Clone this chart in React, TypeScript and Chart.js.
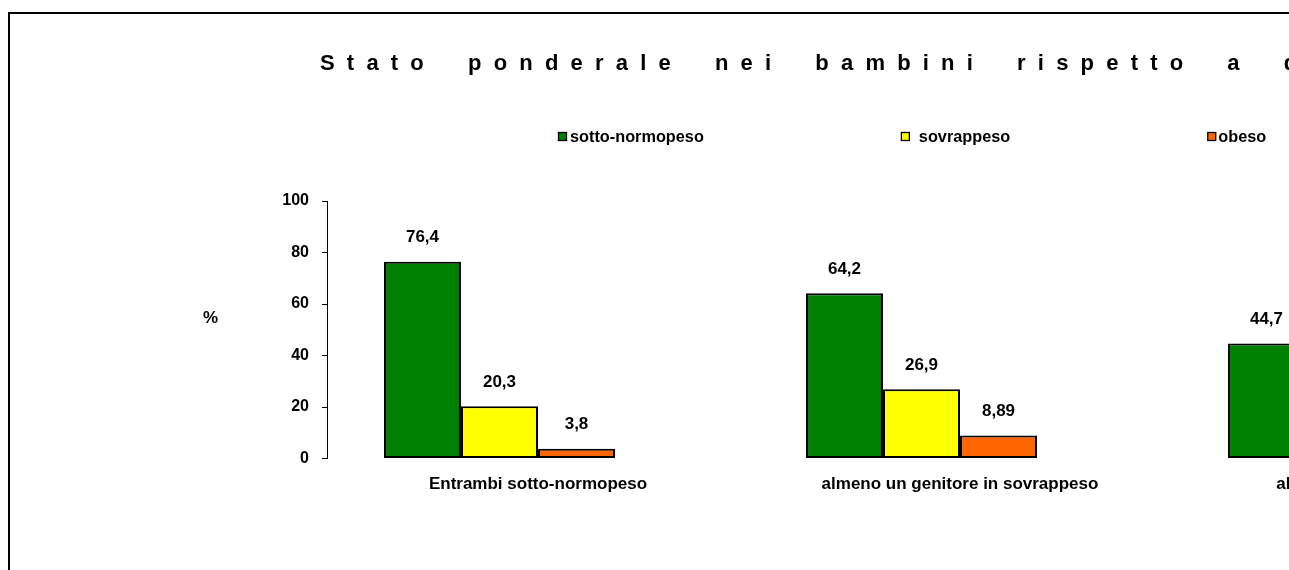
import React, { useEffect, useRef } from "react";
import { Chart, registerables } from "chart.js";

Chart.register(...registerables);

// ---- data ----
const TITLE = "Stato ponderale nei bambini rispetto a quello dei genitori";
const Y_AXIS_LABEL = "%";
const CATEGORIES = [
  "Entrambi sotto-normopeso",
  "almeno un genitore in sovrappeso",
  "almeno un genitore obeso",
];
const SERIES_NAMES = ["sotto-normopeso", "sovrappeso", "obeso"];
const SOTTO_NORMOPESO = [76.4, 64.2, 44.7];
const SOVRAPPESO = [20.3, 26.9, null];
const OBESO = [3.8, 8.89, null];
const SERIES_COLORS = ["#008000", "#FFFF00", "#FF6600"];
const Y_TICKS = [0, 20, 40, 60, 80, 100];

const FONT = "'Liberation Sans', Arial, Helvetica, sans-serif";
const CANVAS_W = 1840;
const CANVAS_H = 620;

const fmt = (v: number) => String(v).replace(".", ",");

const decorPlugin = {
  id: "decor",
  beforeDraw(chart: any) {
    const ctx = chart.ctx;
    ctx.save();
    ctx.fillStyle = "#ffffff";
    ctx.fillRect(0, 0, chart.width, chart.height);
    ctx.strokeStyle = "#000000";
    ctx.lineWidth = 2;
    ctx.strokeRect(1, 5, chart.width - 12, chart.height - 14);
    ctx.restore();
  },
  afterDraw(chart: any) {
    const ctx = chart.ctx;
    ctx.save();
    ctx.fillStyle = "#000000";
    // title, letter-spaced
    ctx.font = `bold 22px ${FONT}`;
    ctx.textBaseline = "alphabetic";
    ctx.textAlign = "left";
    const L = 12.2;
    const G = 32;
    let x = 312;
    for (const ch of TITLE) {
      if (ch === " ") {
        x += G;
      } else {
        ctx.fillText(ch, x, 62);
        x += ctx.measureText(ch).width + L;
      }
    }
    // y axis label
    ctx.font = `bold 17px ${FONT}`;
    ctx.textAlign = "left";
    ctx.textBaseline = "middle";
    ctx.fillText(Y_AXIS_LABEL, 195, 310);
    // legend
    ctx.font = `bold 16.3px ${FONT}`;
    const gaps = [3, 9, 2];
    let lx = 550;
    SERIES_NAMES.forEach((name, i) => {
      ctx.fillStyle = SERIES_COLORS[i];
      ctx.fillRect(lx + 0.5, 124.5, 8, 8);
      ctx.strokeStyle = "#000000";
      ctx.lineWidth = 1.3;
      ctx.strokeRect(lx + 0.5, 124.5, 8, 8);
      ctx.fillStyle = "#000000";
      const tx = lx + 9 + gaps[i];
      ctx.fillText(name, tx, 129.5);
      lx = tx + ctx.measureText(name).width + 197;
    });
    // value labels
    ctx.font = `bold 17px ${FONT}`;
    ctx.textAlign = "center";
    ctx.textBaseline = "middle";
    for (let d = 0; d < SERIES_NAMES.length; d++) {
      const meta = chart.getDatasetMeta(d);
      const values = chart.data.datasets[d].data;
      meta.data.forEach((bar: any, j: number) => {
        const v = values[j];
        if (v === null || v === undefined) return;
        ctx.fillText(fmt(v), bar.x, bar.y - 24);
      });
    }
    ctx.restore();
  },
};

export default function App() {
  const ref = useRef<HTMLCanvasElement | null>(null);

  useEffect(() => {
    document.documentElement.style.overflow = "hidden";
    document.body.style.overflow = "hidden";
    if (!ref.current) return;
    const seriesData = [SOTTO_NORMOPESO, SOVRAPPESO, OBESO];
    const datasets: any[] = SERIES_NAMES.map((name, i) => ({
      label: name,
      data: seriesData[i],
      backgroundColor: SERIES_COLORS[i],
      borderColor: "#000000",
      borderWidth: 2,
      borderSkipped: false,
    }));
    // empty fourth slot (spacing only, as in the original layout)
    datasets.push({
      label: "",
      data: CATEGORIES.map(() => null),
      backgroundColor: "rgba(0,0,0,0)",
      borderWidth: 0,
    });

    const chart = new Chart(ref.current, {
      type: "bar",
      data: { labels: CATEGORIES, datasets },
      options: {
        responsive: false,
        animation: false,
        devicePixelRatio: 1,
        layout: {
          padding: { top: 193, left: 219, right: CANVAS_W - 1585, bottom: CANVAS_H - 450.5 - 60 },
        },
        datasets: {
          bar: { categoryPercentage: 308 / 422, barPercentage: 1 },
        },
        plugins: {
          legend: { display: false },
          title: { display: false },
          tooltip: { enabled: false },
        },
        scales: {
          x: {
            afterFit: (s: any) => {
              s.height = 60;
            },
            grid: { display: false, drawTicks: false },
            border: { display: false },
            ticks: {
              color: "#000000",
              font: { family: FONT, size: 17, weight: "bold" },
              padding: 16,
              maxRotation: 0,
              autoSkip: false,
            },
          },
          y: {
            min: Y_TICKS[0],
            max: Y_TICKS[Y_TICKS.length - 1],
            afterFit: (s: any) => {
              s.width = 100;
            },
            grid: {
              display: true,
              drawOnChartArea: false,
              drawTicks: true,
              tickLength: 5,
              color: "#000000",
              lineWidth: 1,
            },
            border: { display: true, color: "#000000", width: 1 },
            ticks: {
              stepSize: Y_TICKS[1] - Y_TICKS[0],
              color: "#000000",
              padding: 13,
              font: { family: FONT, size: 16, weight: "bold" },
            },
          },
        },
      },
      plugins: [decorPlugin],
    });
    return () => chart.destroy();
  }, []);

  return (
    <div
      style={{
        position: "fixed",
        left: 8,
        top: 8,
        width: 1281,
        height: 562,
        overflow: "hidden",
      }}
    >
      <canvas
        ref={ref}
        width={CANVAS_W}
        height={CANVAS_H}
        style={{ display: "block", width: CANVAS_W, height: CANVAS_H }}
      />
    </div>
  );
}
